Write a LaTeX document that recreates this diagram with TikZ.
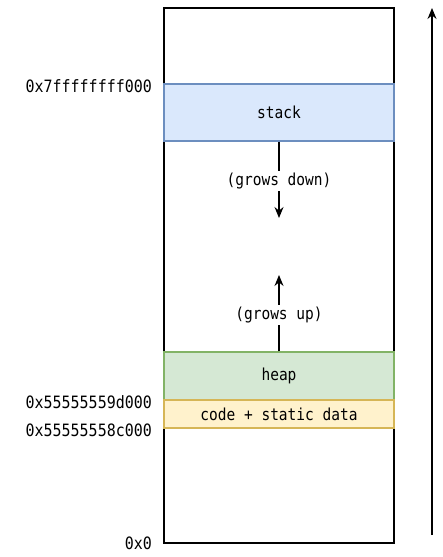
\documentclass[tikz,border=0pt]{standalone}
\usepackage{fontspec}
\setmonofont[FakeStretch=0.88]{DejaVu Sans Mono}
\usepackage{tikz}
\usepackage{xcolor}
\usetikzlibrary{arrows.meta}
\definecolor{stackfill}{HTML}{DAE8FC}
\definecolor{stackline}{HTML}{6C8EBF}
\definecolor{heapfill}{HTML}{D5E8D4}
\definecolor{heapline}{HTML}{82B366}
\definecolor{codefill}{HTML}{FFF2CC}
\definecolor{codeline}{HTML}{D6B656}
\tikzset{
    region/.style={rectangle,draw,line width=1.3pt,minimum width=230pt,inner sep=0pt},
    addr/.style={anchor=east,inner sep=0pt,font=\ttfamily\fontsize{17}{19}\selectfont},
    growarrow/.style={line width=1.3pt,-{Stealth[length=11pt,width=9pt]}}
}

\begin{document}
\begin{tikzpicture}[x=1pt,y=-1pt,font=\ttfamily\fontsize{16.5}{19}\selectfont]
    \useasboundingbox (0,0) rectangle (443,557);
    \node [region,minimum height=535pt] (mem) at (279,275.5) {};
    \node [region,draw=stackline,fill=stackfill,minimum height=57pt] (stack) at (279,112.5) {stack};
    \node [region,draw=heapline,fill=heapfill,minimum height=48pt] (heap) at (279,376) {heap};
    \node [region,draw=codeline,fill=codefill,minimum height=28pt] (code) at (279,414) {code + static data};
    \node [addr] (top) at (152,86) {0x7ffffffff000};
    \node [addr] (brk) at (152,402) {0x55555559d000};
    \node [addr] (base) at (152,430) {0x55555558c000};
    \node [addr] (zero) at (152,543) {0x0};
    \coordinate (downend) at (279,218);
    \coordinate (upend) at (279,275);
    \draw [growarrow] (stack.south) -- (downend);
    \draw [growarrow] (heap.north) -- (upend);
    \node [fill=white,inner sep=2pt] (down) at (279,181) {(grows down)};
    \node [fill=white,inner sep=2pt] (up) at (279,315) {(grows up)};
    \coordinate (addrlow) at (432,535);
    \coordinate (addrhigh) at (432,8);
    \draw [growarrow] (addrlow) -- (addrhigh);

\end{tikzpicture}
\end{document}
